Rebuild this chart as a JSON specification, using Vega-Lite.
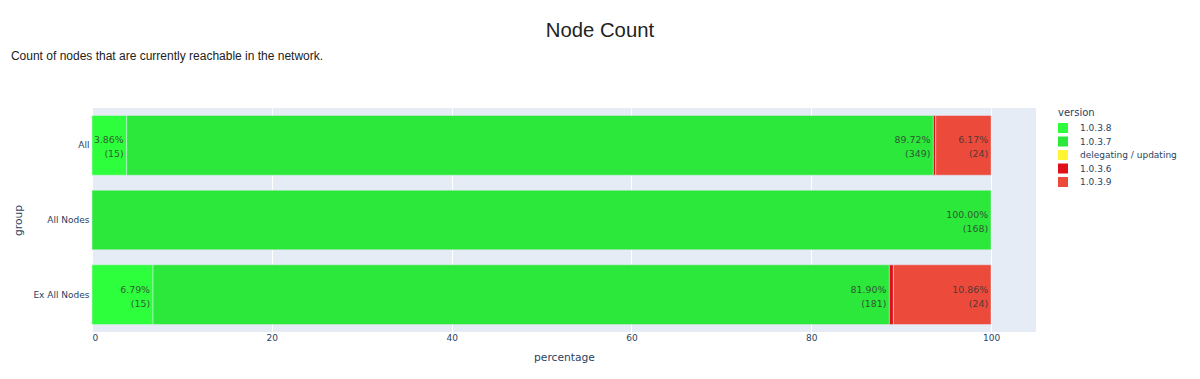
{
  "$schema": "https://vega.github.io/schema/vega-lite/v6.json",
  "background": "white",
  "padding": {"left": 10, "top": 20, "right": 5, "bottom": 5},
  "title": {
    "text": "Node Count",
    "anchor": "middle",
    "frame": "bounds",
    "font": "Liberation Sans",
    "fontSize": 20.3,
    "fontWeight": "normal",
    "color": "#222222",
    "offset": 9,
    "dx": 6
  },
  "vconcat": [
    {
      "title": {
        "text": "Count of nodes that are currently reachable in the network.",
        "anchor": "start",
        "frame": "bounds",
        "font": "Liberation Sans",
        "fontSize": 12,
        "fontWeight": "normal",
        "color": "#222222",
        "offset": 45,
        "dx": -2
      },
      "width": 944,
      "height": 224,
      "data": {
        "values": [
          {"group": "All", "version": "1.0.3.8", "rank": 1, "pct": 3.86, "count": 15},
          {"group": "All", "version": "1.0.3.7", "rank": 2, "pct": 89.72, "count": 349},
          {"group": "All", "version": "1.0.3.6", "rank": 4, "pct": 0.26, "count": 1},
          {"group": "All", "version": "1.0.3.9", "rank": 5, "pct": 6.17, "count": 24},
          {"group": "All Nodes", "version": "1.0.3.7", "rank": 2, "pct": 100.0, "count": 168},
          {"group": "Ex All Nodes", "version": "1.0.3.8", "rank": 1, "pct": 6.79, "count": 15},
          {"group": "Ex All Nodes", "version": "1.0.3.7", "rank": 2, "pct": 81.9, "count": 181},
          {"group": "Ex All Nodes", "version": "1.0.3.6", "rank": 4, "pct": 0.45, "count": 1},
          {"group": "Ex All Nodes", "version": "1.0.3.9", "rank": 5, "pct": 10.86, "count": 24}
        ]
      },
      "transform": [
        {"stack": "pct", "groupby": ["group"], "sort": [{"field": "rank"}], "as": ["x0", "x1"]},
        {"calculate": "[format(datum.pct, '.2f') + '%', '(' + datum.count + ')']", "as": "label"}
      ],
      "encoding": {
        "y": {
          "field": "group",
          "type": "nominal",
          "sort": ["All", "All Nodes", "Ex All Nodes"],
          "scale": {"paddingInner": 0.2, "paddingOuter": 0.1},
          "axis": {
            "title": "group",
            "ticks": false,
            "domain": false,
            "labelPadding": 3,
            "titlePadding": 9,
            "labelFont": "DejaVu Sans",
            "labelFontSize": 9,
            "labelColor": "#2a3f5f",
            "titleFont": "DejaVu Sans",
            "titleFontSize": 10.7,
            "titleFontWeight": "normal",
            "titleColor": "#2a3f5f"
          }
        }
      },
      "layer": [
        {
          "mark": {"type": "bar", "stroke": "#E5ECF6", "strokeWidth": 0.5},
          "encoding": {
            "x": {
              "field": "x0",
              "type": "quantitative",
              "scale": {"domain": [0, 105], "nice": false, "zero": true},
              "axis": {
                "title": "percentage",
                "values": [0, 20, 40, 60, 80, 100],
                "ticks": false,
                "domain": false,
                "grid": true,
                "gridColor": "white",
                "gridWidth": 1,
                "labelPadding": 1,
                "titlePadding": 10,
                "labelFont": "DejaVu Sans",
                "labelFontSize": 9,
                "labelColor": "#2a3f5f",
                "titleFont": "DejaVu Sans",
                "titleFontSize": 10.7,
                "titleFontWeight": "normal",
                "titleColor": "#2a3f5f"
              }
            },
            "x2": {"field": "x1"},
            "color": {
              "field": "version",
              "type": "nominal",
              "scale": {
                "domain": ["1.0.3.8", "1.0.3.7", "delegating / updating", "1.0.3.6", "1.0.3.9"],
                "range": ["#2EFF3C", "#2BE83A", "#FFF533", "#E0101A", "#EC4B3C"]
              },
              "legend": {
                "title": "version",
                "orient": "right",
                "offset": 22,
                "symbolType": "square",
                "symbolSize": 100,
                "symbolStrokeWidth": 0,
                "rowPadding": 3.5,
                "labelFont": "DejaVu Sans",
                "labelFontSize": 9,
                "labelColor": "#2a3f5f",
                "titleFont": "DejaVu Sans",
                "titleFontSize": 10,
                "titleFontWeight": "normal",
                "titleColor": "#2a3f5f",
                "titlePadding": 5,
                "labelOffset": 12
              }
            }
          }
        },
        {
          "transform": [{"filter": "datum.pct > 1"}],
          "mark": {
            "type": "text",
            "align": "right",
            "baseline": "middle",
            "dx": -3,
            "dy": -5,
            "font": "DejaVu Sans",
            "fontSize": 9.4,
            "lineHeight": 14,
            "fill": "#333333",
            "opacity": 0.8
          },
          "encoding": {
            "x": {"field": "x1", "type": "quantitative"},
            "text": {"field": "label"}
          }
        }
      ]
    }
  ],
  "config": {
    "view": {"fill": "#E5ECF6", "stroke": null},
    "concat": {"spacing": 0}
  }
}
